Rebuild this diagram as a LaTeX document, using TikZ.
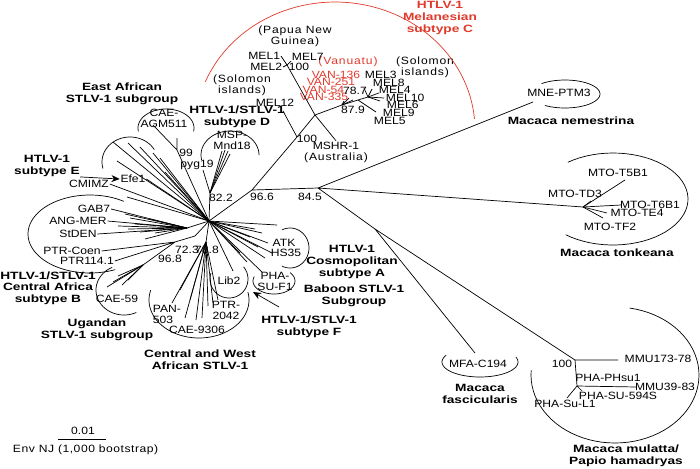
\documentclass[tikz,border=0pt]{standalone}
\usepackage{fontspec}
\setmainfont{Liberation Sans}[FakeStretch=1.15,BoldFeatures={FakeStretch=1.3}]
\usetikzlibrary{arrows.meta}
\definecolor{melred}{RGB}{224,58,44}

\begin{document}
\begin{tikzpicture}[x=0.03cm,y=-0.03cm,line width=0.6pt,>={Stealth[length=7pt,width=6pt]},
  leaf/.style={inner sep=0.5pt,align=center,font=\fontsize{9}{9.5}\selectfont},
  boot/.style={inner sep=0.5pt,font=\fontsize{9}{9.5}\selectfont},
  place/.style={inner sep=0pt,align=center,font=\fontsize{9}{9.5}\selectfont\addfontfeature{LetterSpace=8}},
  grp/.style={inner sep=0pt,align=center,font=\fontsize{9}{10}\selectfont\bfseries},
  clade/.style={line width=0.6pt}]
\useasboundingbox (0,0) rectangle (700,468);

% group labels
\node[grp,text=melred] (melan) at (440,18) {HTLV-1\\Melanesian\\subtype C};
\node[grp] (eastaf) at (122,94) {East African\\STLV-1 subgroup};
\node[grp] (subd) at (237,117) {HTLV-1/STLV-1\\subtype D};
\node[grp] (sube) at (47,166) {HTLV-1\\subtype E};
\node[grp] (subb) at (48,288) {HTLV-1/STLV-1\\Central Africa\\subtype B};
\node[grp] (ugan) at (97,330) {Ugandan\\STLV-1 subgroup};
\node[grp] (cwaf) at (200,360) {Central and West\\African STLV-1};
\node[grp] (suba) at (352,262) {HTLV-1\\Cosmopolitan\\subtype A};
\node[grp] (baboon) at (354,296) {Baboon STLV-1\\Subgroup};
\node[grp] (subf) at (309,327) {HTLV-1/STLV-1\\subtype F};
\node[grp] (mnem) at (571,121) {Macaca nemestrina};
\node[grp] (mton) at (617,253) {Macaca tonkeana};
\node[grp] (mfas) at (480,394) {Macaca\\fascicularis};
\node[grp] (mmul) at (626,456) {Macaca mulatta/\\Papio hamadryas};

% places
\node[place] (png) at (295,36) {(Papua New\\Guinea)};
\node[place,text=melred] (vanu) at (348,62) {(Vanuatu)};
\node[place] (solr) at (425,67) {(Solomon\\islands)};
\node[place] (soll) at (242,85) {(Solomon\\islands)};

% strains
\node[leaf,anchor=east] (mel1) at (281,56) {MEL1};
\node[leaf,anchor=east] (mel2) at (283,67) {MEL2};
\node[leaf,anchor=west] (mel7) at (291,57) {MEL7};
\node[leaf,anchor=east,text=melred] (van136) at (361,75) {VAN-136};
\node[leaf,anchor=east,text=melred] (van251) at (356,82) {VAN-251};
\node[leaf,anchor=east,text=melred] (van54) at (345,90) {VAN-54};
\node[leaf,anchor=east,text=melred] (van335) at (349,97) {VAN-335};
\node[leaf,anchor=west] (mel3) at (364,75) {MEL3};
\node[leaf,anchor=west] (mel8) at (372,83) {MEL8};
\node[leaf,anchor=west] (mel4) at (378,90) {MEL4};
\node[leaf,anchor=west] (mel10) at (385,98) {MEL10};
\node[leaf,anchor=west] (mel6) at (386,105) {MEL6};
\node[leaf,anchor=west] (mel9) at (382,113) {MEL9};
\node[leaf,anchor=west] (mel5) at (373,121) {MEL5};
\node[leaf] (mel12) at (275,103) {MEL12};
\node[leaf] (mshr) at (336,152) {MSHR-1\\{\addfontfeature{LetterSpace=8}(Australia)}};
\node[leaf] (cae) at (164,118) {CAE-\\AGM511};
\node[leaf] (msp) at (232,140) {MSP-\\Mnd18};
\node[leaf] (pyg) at (197,165) {pyg19};
\node[leaf] (efe1) at (133,179) {Efe1};
\node[leaf] (cmimz) at (89,184) {CMIMZ};
\node[leaf] (gab7) at (94,209) {GAB7};
\node[leaf] (angmer) at (78,221) {ANG-MER};
\node[leaf] (stden) at (78,234) {StDEN};
\node[leaf] (ptrcoen) at (72,251) {PTR-Coen};
\node[leaf] (ptr114) at (87,261) {PTR114.1};
\node[leaf] (cae59) at (117,299) {CAE-59};
\node[leaf,align=left] (pan) at (167,314) {PAN-\\503};
\node[leaf] (cae9306) at (197,330) {CAE-9306};
\node[leaf] (ptr2042) at (226,310) {PTR-\\2042};
\node[leaf] (lib2) at (229,281) {Lib2};
\node[leaf] (pha) at (275,281) {PHA-\\SU-F1};
\node[leaf] (atk) at (284,243) {ATK};
\node[leaf] (hs35) at (286,253) {HS35};
\node[leaf] (mne) at (559,93) {MNE-PTM3};
\node[leaf] (t5b1) at (618,173) {MTO-T5B1};
\node[leaf] (td3) at (575,194) {MTO-TD3};
\node[leaf] (t6b1) at (650,205) {MTO-T6B1};
\node[leaf] (te4) at (637,213) {MTO-TE4};
\node[leaf] (tf2) at (610,227) {MTO-TF2};
\node[leaf] (mfa) at (478,364) {MFA-C194};
\node[leaf] (mmu173) at (658,359) {MMU173-78};
\node[leaf] (mmu39) at (665,387) {MMU39-83};
\node[leaf] (phsu1) at (608,378) {PHA-PHsu1};
\node[leaf] (su594) at (618,396) {PHA-SU-594S};
\node[leaf] (sul1) at (565,404) {PHA-Su-L1};

% bootstrap values
\node[boot] (b100a) at (299,67) {100};
\node[boot] (b787) at (355,91) {78.7};
\node[boot] (b879) at (353,110) {87.9};
\node[boot] (b100b) at (307,139) {100};
\node[boot] (b99) at (186,153) {99};
\node[boot] (b822) at (221,198) {82.2};
\node[boot] (b966) at (262,197) {96.6};
\node[boot] (b845) at (310,197) {84.5};
\node[boot] (b723) at (187,250) {72.3};
\node[boot] (b788) at (207,250) {78.8};
\node[boot] (b968) at (170,259) {96.8};
\node[boot] (b100c) at (562,364) {100};

% inner nodes
\coordinate (c) at (209,221);
\coordinate (n82) at (210,193);
\coordinate (n96) at (252,190);
\coordinate (n845) at (318,188);
\coordinate (n100) at (297,137);
\coordinate (m0) at (315,115);
\coordinate (npng) at (287,65);
\coordinate (n879) at (342,105);
\coordinate (n787) at (358,100);
\coordinate (nmel) at (368,97);
\coordinate (n99) at (177,150);
\coordinate (nto) at (583,207);
\coordinate (nmfa) at (375,229);
\coordinate (nmm) at (575,360);
\coordinate (nmm2) at (577,386);
\coordinate (nL) at (187,228);
\coordinate (n723) at (195,236);
\coordinate (nB) at (175,242);
\coordinate (nU) at (143,265);
\coordinate (nW) at (206,242);

% free branch ends
\coordinate (l12) at (283,111);
\coordinate (l7) at (291,61);
\coordinate (l95) at (376,112);
\coordinate (lmne) at (533,102);
\coordinate (lmfa) at (475,353);
\coordinate (l173) at (618,360);
\coordinate (l39) at (637,387);
\coordinate (ll1) at (567,398);
\coordinate (l594) at (582,391);
\coordinate (lcae) at (153,125);
\coordinate (l99) at (177,138);
\coordinate (lpyg) at (203,170);
\coordinate (ftail) at (279,307);
\coordinate (fhead) at (253,292);
\coordinate (sb1) at (58,439);
\coordinate (sb2) at (106,439);

% backbone
\draw (c) -- (n82) (c) -- (n96) -- (n845) (n96) -- (n100) -- (m0);
\draw (n100) -- (l12);
\draw (m0) -- (npng) (m0) -- (mshr.north) (m0) -- (n879) -- (n787) -- (nmel) (n787) -- (l95);
\draw (npng) -- (mel1.east) (npng) -- (mel2.east) (npng) -- (l7);
\foreach \x/\y [count=\i] in {349/98,344/101,353/100}
  {\coordinate (v\i) at (\x,\y); \draw (n879) -- (v\i);}
\foreach \x/\y [count=\i] in {364/88,372/89,379/93,384/98,380/101}
  {\coordinate (m\i) at (\x,\y); \draw (nmel) -- (m\i);}
\draw (n845) -- (lmne) (n845) -- (nto) (n845) -- (nmfa) -- (nmm) (nmfa) -- (lmfa);
\foreach \x/\y [count=\i] in {625/180,621/205,607/213,603/218,591/201}
  {\coordinate (t\i) at (\x,\y); \draw (nto) -- (t\i);}
\draw (nmm) -- (l173) (nmm) -- (nmm2) -- (l39) (nmm2) -- (ll1) (nmm2) -- (l594);

% african strains
\draw (c) -- (n99) -- (lcae) (n99) -- (l99);
\draw (n82) -- (lpyg);
\foreach \x/\y [count=\i] in {222/151,225/150,228/151,230/154}
  {\coordinate (d\i) at (\x,\y); \draw (n82) -- (d\i);}
\foreach \x/\y [count=\i] in {113/142,128/143,140/147,153/153,117/161,160/158,165/172,127/197}
  {\coordinate (e\i) at (\x,\y); \draw (c) -- (e\i);}
\draw (c) -- (efe1.east) (c) -- (cmimz.east);
\draw (c) -- (nL) (nL) -- (gab7.east) (nL) -- (angmer.east) (nL) -- (stden.east);
\foreach \x/\y [count=\i] in {125/214,130/218,135/224,128/229,140/232,150/219,155/233,145/239,160/226,118/226}
  {\coordinate (g\i) at (\x,\y); \draw (nL) -- (g\i);}
\draw (c) -- (n723) -- (nB) (nB) -- (ptrcoen.east) (nB) -- (ptr114.east) (nB) -- (nU);
\foreach \x/\y [count=\i] in {107/287,113/282,122/285,128/280,118/276}
  {\coordinate (u\i) at (\x,\y); \draw (nU) -- (u\i);}
\draw (c) -- (nW);
\foreach \x/\y [count=\i] in {172/303,185/318,190/300,196/320,202/318,208/306,213/303,218/300,180/290}
  {\coordinate (w\i) at (\x,\y); \draw (nW) -- (w\i);}
\foreach \x/\y [count=\i] in {277/225,255/229,262/233,250/237,268/243,272/253,258/247,265/258,247/262,240/253,233/271,262/272}
  {\coordinate (a\i) at (\x,\y); \draw (c) -- (a\i);}

% arrows to subtypes E and F
\draw[->] (sube.south east) -- (efe1.west);
\draw[->] (ftail) -- (fhead);

% clade outlines
\draw[clade,melred] plot[domain=202:355,samples=60] ({335+140*cos(\x)},{130+128*sin(\x)});
\draw[clade] plot[domain=-132:125,samples=40] ({565+35*cos(\x)},{94+14*sin(\x)});
\draw[clade] plot[domain=-127:129,samples=50] ({613+75*cos(\x)},{199+46*sin(\x)});
\draw[clade] plot[domain=-80:184,samples=60] ({615+84*cos(\x)},{375+68*sin(\x)});
\draw[clade] plot[domain=-19:207,samples=40] ({480+38*cos(\x)},{362+15*sin(\x)});
\draw[clade] plot[domain=-115:115,samples=40] ({290+19*cos(\x)},{248+20*sin(\x)});
\draw[clade] plot[domain=-40:200,samples=40] ({274+21*cos(\x)},{281+13*sin(\x)});
\draw[clade] plot[domain=-40:198,samples=40] ({229+19*cos(\x)},{279+19*sin(\x)});
\draw[clade] plot[domain=-12:195,samples=50] ({199+50*cos(\x)},{300+38*sin(\x)});
\draw[clade] plot[domain=64:245,samples=40] ({124+28*cos(\x)},{290+25*sin(\x)});
\draw[clade] plot[domain=66:303,samples=60] ({90+62*cos(\x)},{234+39*sin(\x)});
\draw[clade] plot[domain=165:330,samples=40] ({130+28*cos(\x)},{162+25*sin(\x)});
\draw[clade] plot[domain=170:370,samples=40] ({166+28*cos(\x)},{128+19*sin(\x)});
\draw[clade] plot[domain=168:360,samples=40] ({230+29*cos(\x)},{155+24*sin(\x)});

% scale bar
\node[boot] (b001) at (83,431) {0.01};
\draw (sb1) -- (sb2);
\node[leaf,anchor=west,font=\fontsize{9}{9.5}\selectfont\addfontfeature{LetterSpace=5}] (env) at (12,450) {Env NJ (1,000 bootstrap)};
\end{tikzpicture}
\end{document}
